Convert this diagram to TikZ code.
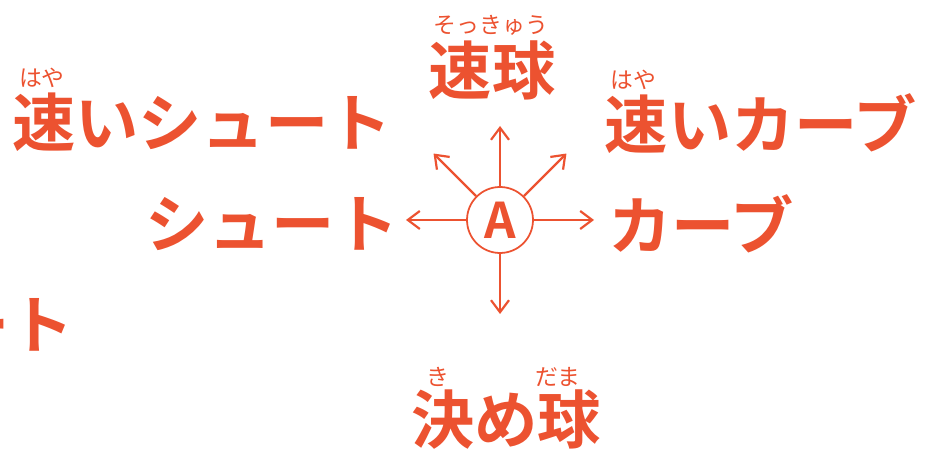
\documentclass[tikz,border=0pt]{standalone}
\usepackage{fontspec}
\newfontfamily\jpfont{Noto Sans CJK JP}[BoldFont={Noto Sans CJK JP Bold}]
\usetikzlibrary{arrows.meta,positioning}
\definecolor{pitchred}{RGB}{236,82,48}
\tikzset{
  pitch/.style={text=pitchred,inner sep=0pt,font=\jpfont\bfseries\fontsize{36}{36}\selectfont},
  ruby/.style={text=pitchred,inner sep=0pt,font=\jpfont\fontsize{13}{13}\selectfont},
  ball/.style={circle,draw=pitchred,line width=1pt,minimum size=1.32cm,inner sep=0pt,text=pitchred,font=\jpfont\bfseries\fontsize{28}{28}\selectfont},
  throw/.style={draw=pitchred,line width=1.25pt,-{Straight Barb[length=2.4mm,width=3.6mm]}}
}
\begin{document}
\begin{tikzpicture}[x=0.02cm,y=0.02cm]
\useasboundingbox (0,0) rectangle (938,457);
\node[ball] (A) at (500,237) {A};
\node[pitch] (sokkyu) at (492,387) {速球};
\node[ruby] (sokkyuruby) at (491,432) {そっきゅう};
\node[pitch] (hayaishoot) at (202,335) {速いシュート};
\node[ruby] (hayaishootruby) at (42,379) {はや};
\node[pitch] (hayaicurve) at (761,333) {速いカーブ};
\node[ruby] (hayaicurveruby) at (633,377) {はや};
\node[pitch] (shoot) at (272,233) {シュート};
\node[pitch] (curve) at (701,233) {カーブ};
\node[pitch] (cutoff) at (10,132) {ート};
\node[pitch] (kimedama) at (506,37) {決め球};
\node[ruby] (kiruby) at (438,80) {き};
\node[ruby] (damaruby) at (558,80) {だま};
\foreach \ang/\name in {90/up,135/upleft,45/upright,180/left,0/right,270/down}{
  \path (A) ++(\ang:94) coordinate (\name);
  \draw[throw] (A) -- (\name);
}
\end{tikzpicture}
\end{document}
